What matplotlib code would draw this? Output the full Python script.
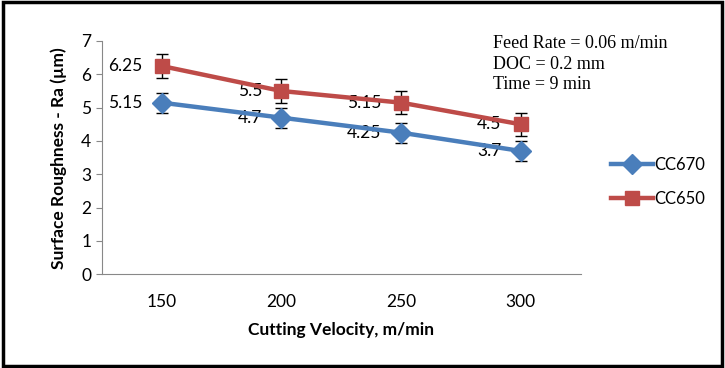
import matplotlib.pyplot as plt
from matplotlib.patches import Rectangle
from matplotlib.lines import Line2D

# data
velocity = ['150', '200', '250', '300']
cc670 = [5.15, 4.7, 4.25, 3.7]
cc650 = [6.25, 5.5, 5.15, 4.5]
err670 = [0.3, 0.3, 0.3, 0.3]
err650 = [0.35, 0.35, 0.35, 0.35]
yticks = [0, 1, 2, 3, 4, 5, 6, 7]
notes = ['Feed Rate = 0.06 m/min', 'DOC = 0.2 mm', 'Time = 9 min']

blue = '#4A7EBB'
red = '#BE4B48'

plt.rcParams['font.family'] = ['Lato', 'DejaVu Sans']

fig = plt.figure(figsize=(7.25, 3.68), dpi=100)
ax = fig.add_axes([0.1403, 0.2546, 0.6607, 0.634])

x = list(range(len(velocity)))

ax.errorbar(x, cc670, yerr=err670, color=blue, lw=3.2, marker='D', ms=10,
            ecolor='black', elinewidth=1, capsize=4, capthick=1, zorder=3)
ax.errorbar(x, cc650, yerr=err650, color=red, lw=3.2, marker='s', ms=10.5,
            ecolor='black', elinewidth=1, capsize=4, capthick=1, zorder=3)

for xi, v in zip(x, cc670):
    ax.annotate(f'{v:g}', (xi, v), xytext=(-14, 0), textcoords='offset points',
                ha='right', va='center', fontsize=12.5)
for xi, v in zip(x, cc650):
    ax.annotate(f'{v:g}', (xi, v), xytext=(-14, 0), textcoords='offset points',
                ha='right', va='center', fontsize=12.5)

ax.set_xlim(-0.5, 3.5)
ax.set_ylim(0, 7)
ax.set_xticks(x)
ax.set_xticklabels(velocity)
ax.set_yticks(yticks)
ax.tick_params(axis='x', length=0, pad=14, labelsize=12.5)
ax.tick_params(axis='y', length=4, color='#888888', labelsize=12.5)
for s in ['top', 'right']:
    ax.spines[s].set_visible(False)
for s in ['left', 'bottom']:
    ax.spines[s].set_color('#888888')

ax.set_xlabel('Cutting Velocity, m/min', fontsize=12.5, fontweight='bold', labelpad=9)
ax.set_ylabel('Surface Roughness - Ra (µm)', fontsize=12.5, fontweight='bold', labelpad=10)

for i, t in enumerate(notes):
    fig.text(0.68, 0.882 - i * 0.056, t, fontsize=13, family='Liberation Serif',
             va='center', ha='left')

handles = [Line2D([], [], color=blue, lw=3.2, marker='D', ms=10),
           Line2D([], [], color=red, lw=3.2, marker='s', ms=10.5)]
fig.legend(handles, ['CC670', 'CC650'], loc='center left', bbox_to_anchor=(0.822, 0.505),
           frameon=False, fontsize=12, handlelength=2.5, labelspacing=1.1,
           handletextpad=0.1)

fig.patches.append(Rectangle((0.004, 0.006), 0.992, 0.988, transform=fig.transFigure,
                             fill=False, edgecolor='black', lw=2.5))

fig.savefig('out.png', dpi=100)
